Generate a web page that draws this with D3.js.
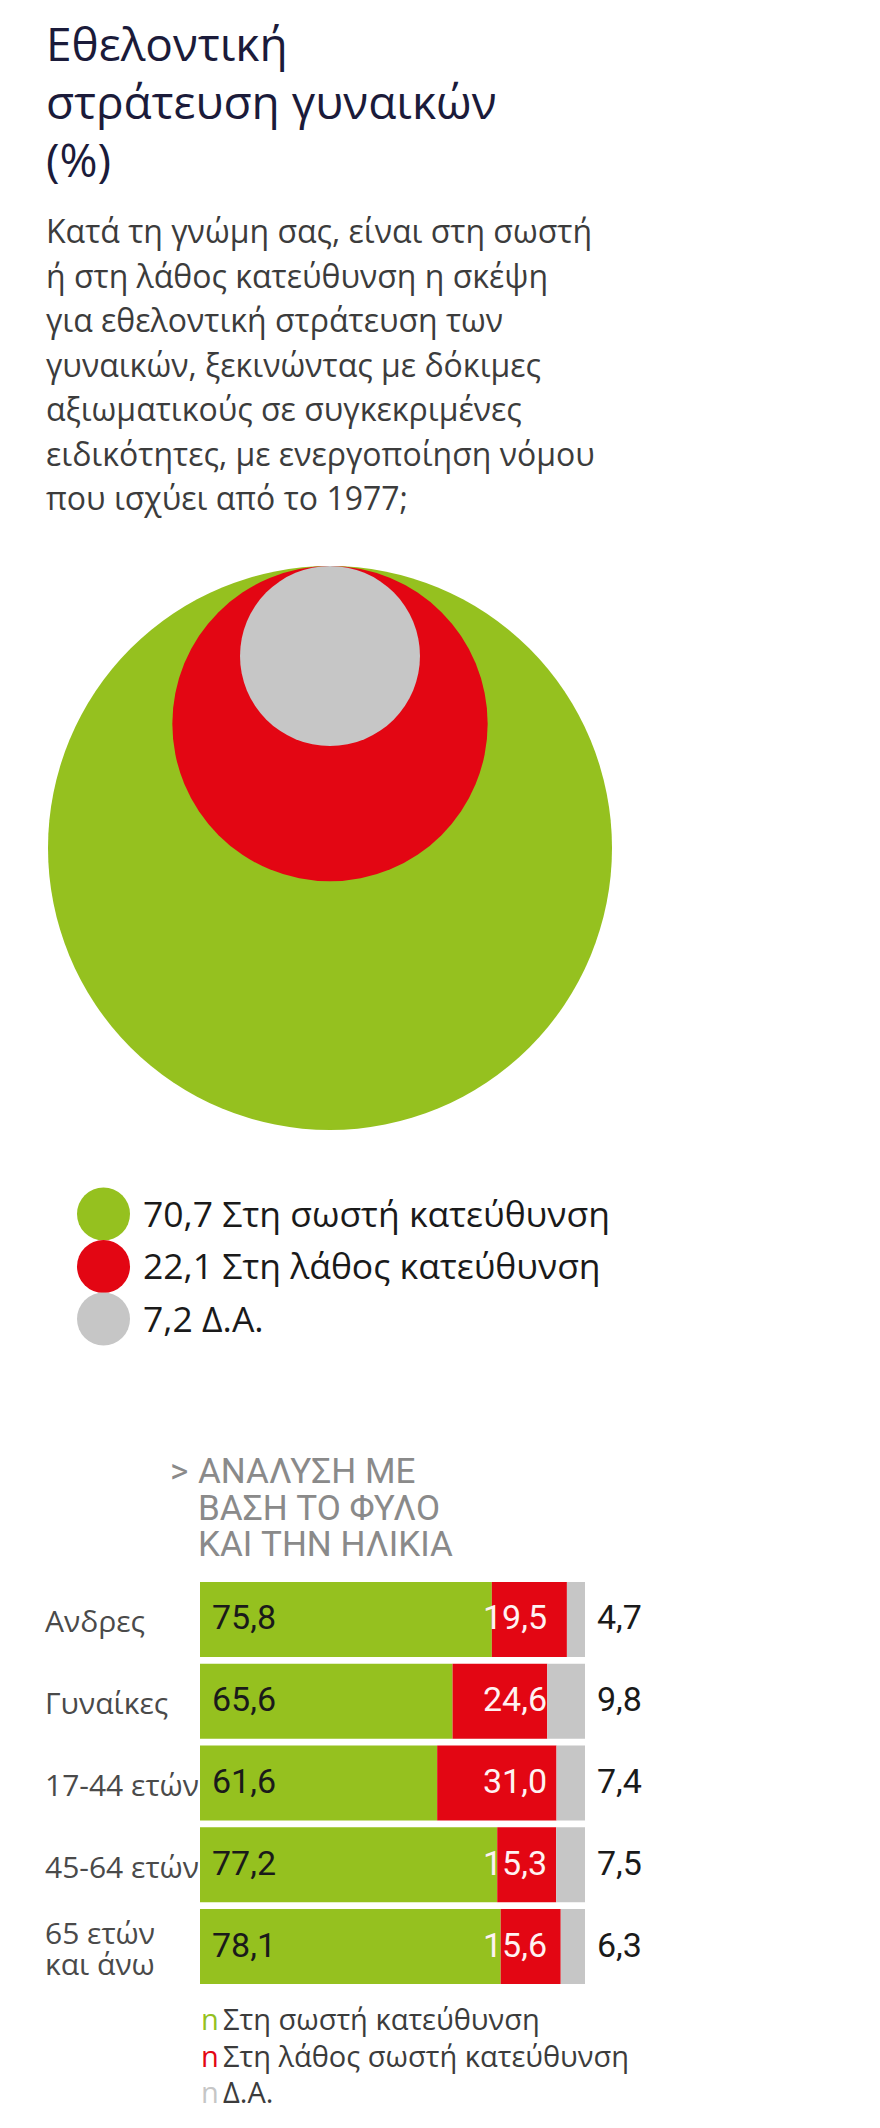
<!DOCTYPE html>
<html>
<head>
<meta charset="utf-8">
<script src="https://cdn.jsdelivr.net/npm/d3@7"></script>
<style>
  body { margin: 0; background: #fff; }
  svg { display: block; }
</style>
</head>
<body>
<svg id="chart" width="880" height="2128"></svg>
<script>
// data
const titleLines = ["Εθελοντική", "στράτευση γυναικών", "(%)"];
const questionLines = [
    "Κατά τη γνώμη σας, είναι στη σωστή",
    "ή στη λάθος κατεύθυνση η σκέψη",
    "για εθελοντική στράτευση των",
    "γυναικών, ξεκινώντας με δόκιμες",
    "αξιωματικούς σε συγκεκριμένες",
    "ειδικότητες, με ενεργοποίηση νόμου",
    "που ισχύει από το 1977;"
];
const totalLabels = ["Στη σωστή κατεύθυνση", "Στη λάθος κατεύθυνση", "Δ.Α."];
const totalValues = [70.7, 22.1, 7.2];

const breakdownTitle = ["ΑΝΑΛΥΣΗ ΜΕ", "ΒΑΣΗ ΤΟ ΦΥΛΟ", "ΚΑΙ ΤΗΝ ΗΛΙΚΙΑ"];
const groups = ["Ανδρες", "Γυναίκες", "17-44 ετών", "45-64 ετών", "65 ετών|και άνω"];
const rightDir = [75.8, 65.6, 61.6, 77.2, 78.1];
const wrongDir = [19.5, 24.6, 31.0, 15.3, 15.6];
const noAnswer = [4.7, 9.8, 7.4, 7.5, 6.3];
const barLegend = ["Στη σωστή κατεύθυνση", "Στη λάθος σωστή κατεύθυνση", "Δ.Α."];

const colors = ["#95c11f", "#e30613", "#c6c6c6"];
const mainFont = "'Open Sans', 'Noto Sans', sans-serif";
const narrowFont = "'Liberation Sans Narrow', 'Roboto', sans-serif";

const fmt = d3.formatLocale({decimal: ",", thousands: ".", grouping: [3], currency: ["", "€"]}).format(".1f");

const svg = d3.select("#chart");

// title + question
svg.append("g")
    .selectAll("text")
    .data(titleLines)
    .join("text")
    .attr("x", 46)
    .attr("y", (d, i) => 61 + i * 58)
    .attr("font-family", mainFont)
    .attr("font-size", 46)
    .attr("fill", "#1b1b3a")
    .text(d => d);

svg.append("g")
    .selectAll("text")
    .data(questionLines)
    .join("text")
    .attr("x", 46)
    .attr("y", (d, i) => 243 + i * 44.5)
    .attr("font-family", mainFont)
    .attr("font-size", 32)
    .attr("fill", "#3c3c3c")
    .text(d => d);

// nested circles, all touching at the top
const r = d3.scaleSqrt().domain([0, d3.max(totalValues)]).range([0, 282]);
const circleTop = 566, circleX = 330;

svg.append("g")
    .selectAll("circle")
    .data(totalValues)
    .join("circle")
    .attr("cx", circleX)
    .attr("cy", d => circleTop + r(d))
    .attr("r", d => r(d))
    .attr("fill", (d, i) => colors[i]);

// legend for circles
const legendY = d3.scaleLinear().domain([0, 1]).range([1214, 1266.5]);
const legend = svg.append("g")
    .selectAll("g")
    .data(totalValues)
    .join("g")
    .attr("transform", (d, i) => `translate(0,${legendY(i)})`);

legend.append("circle")
    .attr("cx", 103.5)
    .attr("r", 26.5)
    .attr("fill", (d, i) => colors[i]);

legend.append("text")
    .attr("x", 143)
    .attr("y", 12.5)
    .attr("font-family", mainFont)
    .attr("font-size", 35.5)
    .attr("fill", "#1a1a1a")
    .text((d, i) => `${fmt(d)} ${totalLabels[i]}`);

// breakdown header
const header = svg.append("g")
    .attr("font-family", narrowFont)
    .attr("font-size", 35)
    .attr("fill", "#8a8a8a");

header.append("text")
    .attr("x", 170)
    .attr("y", 1483)
    .text(">");

header.selectAll("text.line")
    .data(breakdownTitle)
    .join("text")
    .attr("class", "line")
    .attr("x", 198)
    .attr("y", (d, i) => 1483 + i * 36.5)
    .text(d => d);

// stacked bars
const rows = groups.map((g, i) => ({group: g, right: rightDir[i], wrong: wrongDir[i], na: noAnswer[i]}));
const keys = ["right", "wrong", "na"];
const stacked = d3.stack().keys(keys)(rows);

const x = d3.scaleLinear().domain([0, 100]).range([200, 585]);
const y = d3.scaleBand().domain(groups).range([1582, 1984]).paddingInner(0.0826);

svg.append("g")
    .selectAll("g")
    .data(stacked)
    .join("g")
    .attr("fill", (d, i) => colors[i])
    .selectAll("rect")
    .data(d => d)
    .join("rect")
    .attr("x", d => x(d[0]))
    .attr("y", d => y(d.data.group))
    .attr("width", d => x(d[1]) - x(d[0]))
    .attr("height", y.bandwidth());

const mid = g => y(g) + y.bandwidth() / 2;

// row labels
svg.append("g")
    .selectAll("text")
    .data(groups)
    .join("text")
    .attr("font-family", mainFont)
    .attr("font-size", 30)
    .attr("fill", "#4a4a4a")
    .each(function (g) {
        const parts = g.split("|");
        const t = d3.select(this);
        const y0 = mid(g) + 13 - (parts.length - 1) * 15.5;
        parts.forEach((p, k) => {
            t.append("tspan")
                .attr("x", 45)
                .attr("y", y0 + k * 31)
                .text(p);
        });
    });

// values inside and beside the bars
const values = svg.append("g")
    .attr("font-family", narrowFont)
    .attr("font-size", 34);

values.selectAll("text.right")
    .data(rows)
    .join("text")
    .attr("class", "right")
    .attr("x", x(0) + 12)
    .attr("y", d => mid(d.group) + 10)
    .attr("fill", "#1a1a1a")
    .text(d => fmt(d.right));

values.selectAll("text.wrong")
    .data(rows)
    .join("text")
    .attr("class", "wrong")
    .attr("x", x(100) - 38)
    .attr("y", d => mid(d.group) + 10)
    .attr("text-anchor", "end")
    .attr("fill", "#fff2f2")
    .text(d => fmt(d.wrong));

values.selectAll("text.na")
    .data(rows)
    .join("text")
    .attr("class", "na")
    .attr("x", x(100) + 12)
    .attr("y", d => mid(d.group) + 10)
    .attr("fill", "#1a1a1a")
    .text(d => fmt(d.na));

// bar legend
const barLeg = svg.append("g")
    .selectAll("text")
    .data(barLegend)
    .join("text")
    .attr("y", (d, i) => 2030 + i * 36.5)
    .attr("font-family", mainFont)
    .attr("font-size", 29);

barLeg.append("tspan")
    .attr("x", 201)
    .attr("fill", (d, i) => colors[i])
    .text("n");

barLeg.append("tspan")
    .attr("x", 223)
    .attr("fill", "#3c3c3c")
    .text(d => d);
</script>
</body>
</html>
